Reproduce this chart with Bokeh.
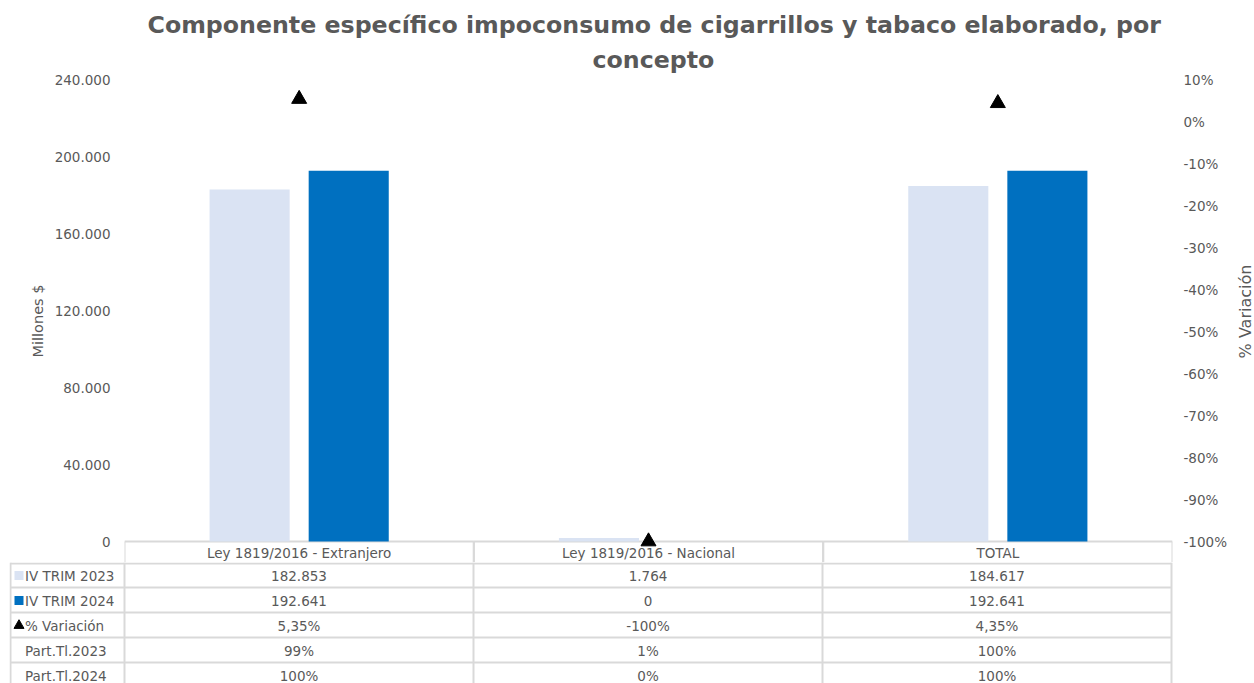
import math
from bokeh.plotting import figure
from bokeh.models import FactorRange, Range1d, LinearAxis, FixedTicker, ColumnDataSource, Title
from bokeh.layouts import column, row
from bokeh.transform import dodge
from bokeh.core.properties import value
from bokeh.embed import file_html
from bokeh.resources import INLINE

# ---------------- data ----------------
categories = ["Ley 1819/2016 - Extranjero", "Ley 1819/2016 - Nacional", "TOTAL"]
trim_2023 = [182853, 1764, 184617]
trim_2024 = [192641, 0, 192641]
variacion = [5.35, -100.0, 4.35]
part_2023 = [99, 1, 100]
part_2024 = [100, 0, 100]
row_names = ["IV TRIM 2023", "IV TRIM 2024", "% Variación", "Part.Tl.2023", "Part.Tl.2024"]
left_ticks = [0, 40000, 80000, 120000, 160000, 200000, 240000]
right_ticks = [-100, -90, -80, -70, -60, -50, -40, -30, -20, -10, 0, 10]
title_lines = ["Componente específico impoconsumo de cigarrillos y tabaco elaborado, por", "concepto"]
title_offsets = [23, 468]
right_title = "% Variación"

# ---------------- style / layout ----------------
FONT = "DejaVu Sans"
GREY = "#595959"
LIGHT = "#DAE3F3"
DARK = "#0070C0"
GRID = "#D9D9D9"
W_ALL = 1254
SIDE_W = 24                # strip at the right edge holding the right axis title
W = W_ALL - SIDE_W
H_ALL = 683
PX = 349.0                 # pixels per category
FRAME_H = 462.0            # px between 0 and 240.000
FRAME_TOP = 79
FRAME_LEFT, FRAME_RIGHT = 124, 1172
HEADER_H = 21              # header row of the table (drawn in the chart figure)
ROW_H = 25
TOP_H = FRAME_TOP + int(FRAME_H) + HEADER_H
TAB_H = H_ALL - TOP_H
LABEL_W = 114 / PX
Y_MAX = 240000
P_MIN, P_MAX = -100, 10
VAL_PER_PX = Y_MAX / FRAME_H
PCT_PER_PX = (P_MAX - P_MIN) / FRAME_H


def fmt_thousands(v):
    return f"{v:,.0f}".replace(",", ".")


def fmt_pct(v):
    if float(v) == int(v):
        return f"{int(v)}%"
    return f"{v:.2f}".replace(".", ",") + "%"


# ---------------- chart ----------------
src = ColumnDataSource(dict(cat=categories, y23=trim_2023, y24=trim_2024, var=variacion))

p = figure(width=W, height=TOP_H,
           x_range=FactorRange(*categories, range_padding=0),
           y_range=Range1d(-HEADER_H * VAL_PER_PX, Y_MAX),
           x_axis_location=None,
           output_backend="svg", toolbar_location=None,
           min_border_left=FRAME_LEFT, min_border_right=W - FRAME_RIGHT,
           min_border_top=FRAME_TOP, min_border_bottom=0)
p.frame_align = False
p.extra_y_ranges = {"pct": Range1d(P_MIN - HEADER_H * PCT_PER_PX, P_MAX)}
p.grid.visible = False
p.outline_line_color = None

for k, (line, off) in enumerate(zip(reversed(title_lines), reversed(title_offsets))):
    p.add_layout(Title(text=line, align="left", offset=off, text_font_size="23.7px",
                       text_font_style="bold", text_color=GREY, text_font=FONT,
                       text_line_height=0.9, standoff=11 if k == 0 else 0),
                 "above")

yax = p.yaxis[0]
yax.ticker = FixedTicker(ticks=left_ticks)
yax.major_label_overrides = {t: fmt_thousands(t) for t in left_ticks}
yax.axis_line_color = None
yax.major_tick_line_color = None
yax.minor_tick_line_color = None
yax.major_tick_out = 0
yax.major_tick_in = 0
yax.major_label_standoff = 14
yax.major_label_text_font = FONT
yax.major_label_text_font_size = "13.5px"
yax.major_label_text_color = GREY
yax.axis_label = "Millones $"
yax.axis_label_text_font = FONT
yax.axis_label_text_font_size = "14.5px"
yax.axis_label_text_font_style = "normal"
yax.axis_label_text_color = GREY
yax.axis_label_standoff = 6

rax = LinearAxis(y_range_name="pct", ticker=FixedTicker(ticks=right_ticks))
rax.major_label_overrides = {t: fmt_pct(t) for t in right_ticks}
rax.axis_line_color = None
rax.major_tick_line_color = None
rax.minor_tick_line_color = None
rax.major_tick_out = 0
rax.major_tick_in = 0
rax.major_label_standoff = 11
rax.major_label_text_font = FONT
rax.major_label_text_font_size = "13.5px"
rax.major_label_text_color = GREY
p.add_layout(rax, "right")

# table header row (under the plot area)
p.segment(x0=dodge("cat", -0.5, range=p.x_range), y0=0, x1=dodge("cat", 0.5, range=p.x_range), y1=0,
          source=src, line_color=GRID, line_width=2)
for off in (-0.5, 0.5):
    p.segment(x0=dodge("cat", off, range=p.x_range), y0=0,
              x1=dodge("cat", off, range=p.x_range), y1=-(HEADER_H + 5) * VAL_PER_PX,
              source=src, line_color=GRID, line_width=2)
p.text(x="cat", y=-(HEADER_H / 2 + 0.5) * VAL_PER_PX, text="cat", source=src,
       text_font=value(FONT), text_font_size="13.5px", text_color=GREY,
       text_align="center", text_baseline="middle")

p.vbar(x=dodge("cat", -49.5 / PX, range=p.x_range), top="y23", width=80 / PX,
       source=src, fill_color=LIGHT, line_color=None)
p.vbar(x=dodge("cat", 49.5 / PX, range=p.x_range), top="y24", width=80 / PX,
       source=src, fill_color=DARK, line_color=None)
p.scatter(x="cat", y="var", source=src, y_range_name="pct", marker="triangle",
          size=15, fill_color="black", line_color="black")

# ---------------- data table body ----------------
x_start = -115 / PX
frame_w = (FRAME_RIGHT + 2) - 9
t = figure(width=W, height=TAB_H,
           x_range=Range1d(x_start, x_start + frame_w / PX),
           y_range=Range1d(TAB_H, 0),
           x_axis_location=None, y_axis_location=None,
           output_backend="svg", toolbar_location=None,
           min_border_left=9, min_border_right=W - (FRAME_RIGHT + 2),
           min_border_top=0, min_border_bottom=0)
t.frame_align = False
t.grid.visible = False
t.outline_line_color = None

n_cat = len(categories)
n_rows = len(row_names)
row_tops = [k * ROW_H for k in range(n_rows + 1)]
hy = [1] + row_tops[1:]
t.segment(x0=[-LABEL_W] * len(hy), y0=hy, x1=[n_cat] * len(hy), y1=hy, line_color=GRID, line_width=2)
vx = list(range(n_cat + 1)) + [-LABEL_W]
t.segment(x0=vx, y0=[0] * len(vx), x1=vx, y1=[TAB_H + 10] * len(vx), line_color=GRID, line_width=2)

rows = [
    [fmt_thousands(v) for v in trim_2023],
    [fmt_thousands(v) for v in trim_2024],
    [fmt_pct(v) for v in variacion],
    [fmt_pct(v) for v in part_2023],
    [fmt_pct(v) for v in part_2024],
]
row_mid = [row_tops[k] + ROW_H / 2 + 0.5 for k in range(n_rows)]
cx, cy, ct = [], [], []
for k, r in enumerate(rows):
    for i, s_ in enumerate(r):
        cx.append(i + 0.5); cy.append(row_mid[k]); ct.append(s_)
t.text(x=cx, y=cy, text=ct, text_font=value(FONT), text_font_size="13.5px",
       text_color=GREY, text_align="center", text_baseline="middle")

t.text(x=[-LABEL_W + 14.5 / PX] * n_rows, y=row_mid, text=row_names,
       text_font=value(FONT), text_font_size="13.5px", text_color=GREY,
       text_align="left", text_baseline="middle")
key_x = -LABEL_W + 8.5 / PX
t.scatter(x=[key_x, key_x], y=row_mid[:2], marker="square", size=9,
          fill_color=[LIGHT, DARK], line_color=None)
t.scatter(x=[key_x], y=[row_mid[2]], marker="triangle", size=10,
          fill_color="black", line_color="black")

# ---------------- right-edge strip: title of the % axis ----------------
s = figure(width=SIDE_W, height=H_ALL, x_range=Range1d(0, SIDE_W), y_range=Range1d(H_ALL, 0),
           x_axis_location=None, y_axis_location=None,
           output_backend="svg", toolbar_location=None,
           min_border_left=0, min_border_right=0, min_border_top=0, min_border_bottom=0)
s.frame_align = False
s.grid.visible = False
s.outline_line_color = None
s.text(x=[14.5], y=[FRAME_TOP + FRAME_H / 2 + 1], text=[right_title], angle=math.pi / 2,
       text_font=value(FONT), text_font_size="16px", text_color=GREY,
       text_align="center", text_baseline="middle")

layout = row(column(p, t, spacing=0), s, spacing=0)
open("out.html", "w").write(file_html(layout, INLINE))
